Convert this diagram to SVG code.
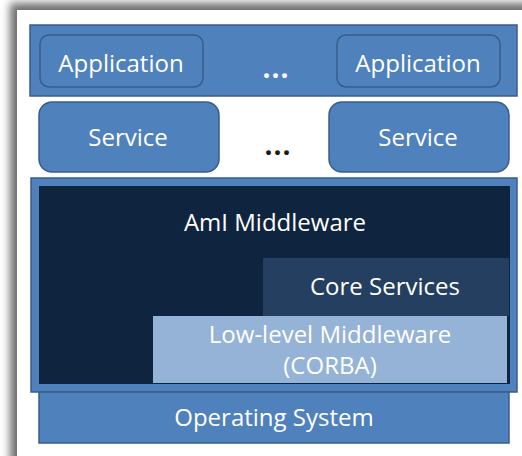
<svg xmlns="http://www.w3.org/2000/svg" width="522" height="456" viewBox="0 0 522 456">
  <defs>
    <filter id="soft" x="-10%" y="-10%" width="120%" height="120%">
      <feGaussianBlur stdDeviation="4"/>
    </filter>
  </defs>
  <style>
    .lbl { font-family: "Open Sans", "Noto Sans", "Liberation Sans", sans-serif; fill: #ffffff; text-anchor: middle; font-size: 24px; }
    .blue { fill: #4f81bd; stroke: #385d8a; stroke-width: 1.5; }
    .dots { font-family: "Open Sans", "Liberation Sans", sans-serif; font-weight: bold; text-anchor: middle; font-size: 28px; letter-spacing: 1px; }
  </style>

  <!-- page background and panel with soft shadow -->
  <rect x="0" y="0" width="522" height="456" fill="#ffffff"/>
  <rect x="10" y="3" width="530" height="470" fill="#6e6e6e" filter="url(#soft)"/>
  <rect x="17" y="10" width="505" height="446" fill="#ffffff"/>

  <!-- application layer -->
  <g id="application-layer">
    <rect class="blue" x="30" y="25" width="487" height="71"/>
    <text class="dots" x="276" y="78" fill="#ffffff">...</text>
  </g>
  <g id="application-1">
    <rect class="blue" x="40" y="35" width="163" height="52" rx="9"/>
    <text class="lbl" x="121" y="72">Application</text>
  </g>
  <g id="application-2">
    <rect class="blue" x="337" y="35" width="163" height="52" rx="9"/>
    <text class="lbl" x="418" y="72">Application</text>
  </g>

  <!-- service layer -->
  <g id="service-1">
    <rect class="blue" x="39" y="102" width="180" height="70" rx="13"/>
    <text class="lbl" x="128" y="146">Service</text>
  </g>
  <text class="dots" x="278" y="155" fill="#1a1a1a">...</text>
  <g id="service-2">
    <rect class="blue" x="329" y="102" width="180" height="70" rx="13"/>
    <text class="lbl" x="418" y="146">Service</text>
  </g>

  <!-- middleware block -->
  <g id="aml-middleware">
    <rect class="blue" x="31" y="178" width="486" height="214"/>
    <rect x="39" y="186" width="471" height="198" fill="#0f243e"/>
    <text class="lbl" x="275" y="231">AmI Middleware</text>
  </g>
  <g id="core-services">
    <rect x="263" y="258" width="246" height="58" fill="#243f60"/>
    <text class="lbl" x="385" y="295">Core Services</text>
  </g>
  <g id="low-level-middleware">
    <rect x="153" y="316" width="354" height="67" fill="#95b3d7"/>
    <text class="lbl" x="330" y="343" fill="#eef3f9">Low-level Middleware</text>
    <text class="lbl" x="330" y="374" fill="#eef3f9">(CORBA)</text>
  </g>

  <!-- operating system -->
  <g id="operating-system">
    <rect class="blue" x="39" y="392" width="470" height="51"/>
    <text class="lbl" x="274" y="426">Operating System</text>
  </g>
</svg>
